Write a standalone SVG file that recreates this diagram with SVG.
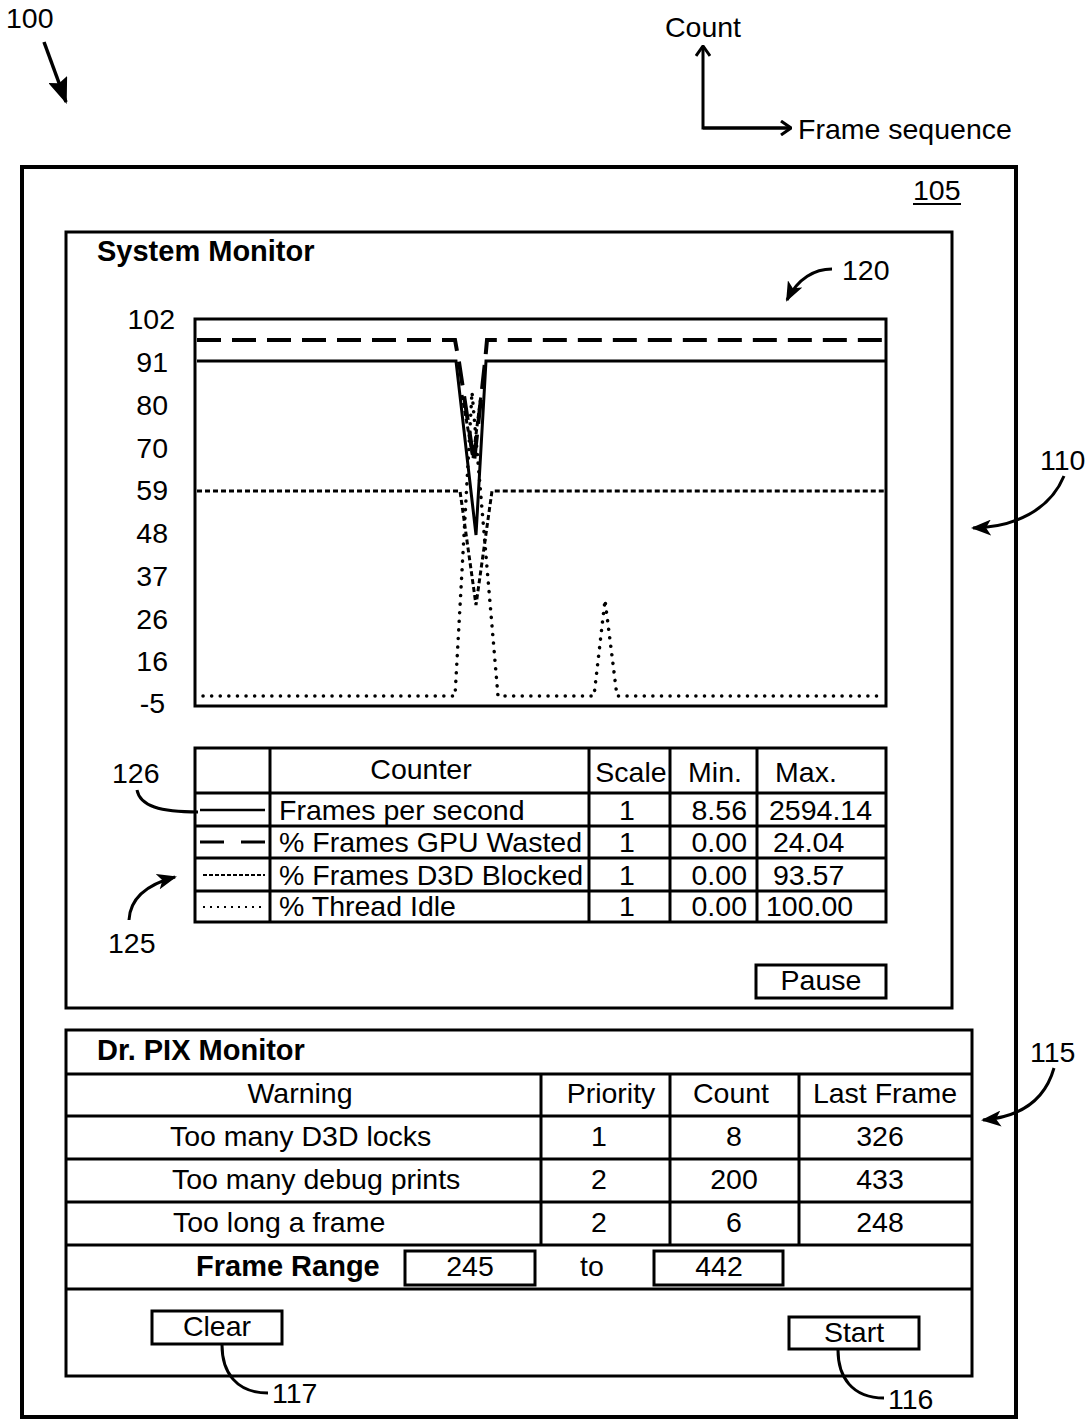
<svg xmlns="http://www.w3.org/2000/svg" width="1091" height="1419" viewBox="0 0 1091 1419">
<style>
text{font-family:"Liberation Sans",Arial,sans-serif;font-size:28.5px;fill:#000}
.b{font-weight:bold;font-size:29px}
.m{text-anchor:middle}
.e{text-anchor:end}
.box{fill:none;stroke:#000;stroke-width:3}
.ln{fill:none;stroke:#000;stroke-width:3}
.solid{fill:none;stroke:#000;stroke-width:3}
.dash{fill:none;stroke:#000;stroke-width:4;stroke-dasharray:24 11}
.dense{fill:none;stroke:#000;stroke-width:3;stroke-dasharray:5 3}
.sparse{fill:none;stroke:#000;stroke-width:3.5;stroke-dasharray:0.1 8.5;stroke-linecap:round}
.lead{fill:none;stroke:#000;stroke-width:3}
</style>
<defs>
<marker id="ah" viewBox="0 0 20 16" refX="18" refY="8" markerWidth="20" markerHeight="16" markerUnits="userSpaceOnUse" orient="auto">
<path d="M0,0 L20,8 L0,16 L5,8 Z" fill="#000"/>
</marker>
<marker id="ahb" viewBox="0 0 26 20" refX="24" refY="10" markerWidth="26" markerHeight="20" markerUnits="userSpaceOnUse" orient="auto">
<path d="M0,0 L26,10 L0,20 L4,10 Z" fill="#000"/>
</marker>
<marker id="chev" viewBox="0 0 12 16" refX="11" refY="8" markerWidth="12" markerHeight="16" markerUnits="userSpaceOnUse" orient="auto">
<path d="M1,1 L11,8 L1,15" fill="none" stroke="#000" stroke-width="3"/>
</marker>
</defs>

<g id="label-100">
<text x="6" y="28">100</text>
</g>

<g id="axes">
<text class="m" x="703" y="37">Count</text>
<text x="798" y="139">Frame sequence</text>
</g>

<g id="frame-105">
<rect x="22" y="167" width="994" height="1250" fill="none" stroke="#000" stroke-width="4"/>
<text x="913" y="200">105</text>
<line x1="913" y1="204" x2="961" y2="204" stroke="#000" stroke-width="2"/>
</g>

<g id="system-monitor-110">
<rect class="box" x="66" y="232" width="886" height="776"/>
<text class="b" x="97" y="261">System Monitor</text>
</g>

<g id="chart-120">
<rect class="box" x="195" y="319" width="691" height="387"/>
<text class="e" x="175" y="329">102</text>
<text class="e" x="168" y="372">91</text>
<text class="e" x="168" y="415">80</text>
<text class="e" x="168" y="458">70</text>
<text class="e" x="168" y="500">59</text>
<text class="e" x="168" y="543">48</text>
<text class="e" x="168" y="586">37</text>
<text class="e" x="168" y="629">26</text>
<text class="e" x="168" y="671">16</text>
<text class="e" x="165" y="713">-5</text>
<polyline class="dash" points="197,340 455,340 459,362 474,462 485,362 487,340 885,340"/>
<polyline class="solid" points="197,361 456,361 476,535 486,361 885,361"/>
<polyline class="dense" points="197,491 460,491 476,605 492,491 885,491"/>
<polyline class="dense" points="462,395 473,458 481,395"/>
<polyline class="sparse" points="203,696 455,696 472,392 498,696 594,696 605,600 617,696 884,696"/>
<text x="842" y="280">120</text>
</g>

<g id="legend-125">
<rect class="box" x="195" y="748" width="691" height="174"/>
<line class="ln" x1="195" y1="793" x2="886" y2="793"/>
<line class="ln" x1="195" y1="826" x2="886" y2="826"/>
<line class="ln" x1="195" y1="858" x2="886" y2="858"/>
<line class="ln" x1="195" y1="891" x2="886" y2="891"/>
<line class="ln" x1="270" y1="748" x2="270" y2="922"/>
<line class="ln" x1="589" y1="748" x2="589" y2="922"/>
<line class="ln" x1="670" y1="748" x2="670" y2="922"/>
<line class="ln" x1="757" y1="748" x2="757" y2="922"/>
<text class="m" x="421" y="779">Counter</text>
<text class="m" x="631" y="782">Scale</text>
<text class="m" x="715" y="782">Min.</text>
<text class="m" x="806" y="782">Max.</text>
<line x1="200" y1="810" x2="265" y2="810" stroke="#000" stroke-width="2.5"/>
<line x1="200" y1="842" x2="265" y2="842" stroke="#000" stroke-width="3" stroke-dasharray="24 17"/>
<line x1="203" y1="875" x2="265" y2="875" stroke="#000" stroke-width="2" stroke-dasharray="4 2"/>
<line x1="203" y1="907" x2="265" y2="907" stroke="#000" stroke-width="2" stroke-dasharray="2 5"/>
<text x="279" y="820">Frames per second</text>
<text x="279" y="852">% Frames GPU Wasted</text>
<text x="279" y="885">% Frames D3D Blocked</text>
<text x="279" y="916">% Thread Idle</text>
<text class="m" x="627" y="820">1</text>
<text class="m" x="627" y="852">1</text>
<text class="m" x="627" y="885">1</text>
<text class="m" x="627" y="916">1</text>
<text class="e" x="747" y="820">8.56</text>
<text class="e" x="747" y="852">0.00</text>
<text class="e" x="747" y="885">0.00</text>
<text class="e" x="747" y="916">0.00</text>
<text x="769" y="820">2594.14</text>
<text x="773" y="852">24.04</text>
<text x="773" y="885">93.57</text>
<text x="766" y="916">100.00</text>
<text x="112" y="783">126</text>
<text x="108" y="953">125</text>
</g>

<g id="pause-button">
<rect class="box" x="756" y="965" width="130" height="33"/>
<text class="m" x="821" y="990">Pause</text>
</g>

<g id="drpix-monitor-115">
<rect class="box" x="66" y="1030" width="906" height="346"/>
<text class="b" x="97" y="1060">Dr. PIX Monitor</text>
<line class="ln" x1="66" y1="1074" x2="972" y2="1074"/>
<line class="ln" x1="66" y1="1116" x2="972" y2="1116"/>
<line class="ln" x1="66" y1="1159" x2="972" y2="1159"/>
<line class="ln" x1="66" y1="1202" x2="972" y2="1202"/>
<line class="ln" x1="66" y1="1245" x2="972" y2="1245"/>
<line class="ln" x1="66" y1="1289" x2="972" y2="1289"/>
<line class="ln" x1="541" y1="1074" x2="541" y2="1245"/>
<line class="ln" x1="670" y1="1074" x2="670" y2="1245"/>
<line class="ln" x1="799" y1="1074" x2="799" y2="1245"/>
<text class="m" x="300" y="1103">Warning</text>
<text class="m" x="611" y="1103">Priority</text>
<text class="m" x="731" y="1103">Count</text>
<text class="m" x="885" y="1103">Last Frame</text>
<text x="170" y="1146">Too many D3D locks</text>
<text x="172" y="1189">Too many debug prints</text>
<text x="173" y="1232">Too long a frame</text>
<text class="m" x="599" y="1146">1</text>
<text class="m" x="599" y="1189">2</text>
<text class="m" x="599" y="1232">2</text>
<text class="m" x="734" y="1146">8</text>
<text class="m" x="734" y="1189">200</text>
<text class="m" x="734" y="1232">6</text>
<text class="m" x="880" y="1146">326</text>
<text class="m" x="880" y="1189">433</text>
<text class="m" x="880" y="1232">248</text>
<text class="b" x="196" y="1276">Frame Range</text>
<rect class="box" x="405" y="1251" width="130" height="34"/>
<text class="m" x="470" y="1276">245</text>
<text class="m" x="592" y="1276">to</text>
<rect class="box" x="654" y="1251" width="129" height="34"/>
<text class="m" x="719" y="1276">442</text>
</g>

<g id="clear-button-117">
<rect class="box" x="152" y="1311" width="130" height="33"/>
<text class="m" x="217" y="1336">Clear</text>
<text x="272" y="1403">117</text>
</g>

<g id="start-button-116">
<rect class="box" x="789" y="1317" width="130" height="32"/>
<text class="m" x="854" y="1342">Start</text>
<text x="888" y="1409">116</text>
</g>

<g id="label-110-115">
<text x="1040" y="470">110</text>
<text x="1030" y="1062">115</text>
</g>

<g id="connectors">
<line x1="44" y1="42" x2="66" y2="102" stroke="#000" stroke-width="3.5" marker-end="url(#ahb)"/>
<polyline points="790,128 703,128 703,46" fill="none" stroke="#000" stroke-width="3" marker-end="url(#chev)"/>
<line x1="703" y1="128" x2="791" y2="128" stroke="#000" stroke-width="3" marker-end="url(#chev)"/>
<path class="lead" d="M832,269 C815,269 798,278 787,300" marker-end="url(#ah)"/>
<path class="lead" d="M1064,476 C1050,510 1015,527 973,528" marker-end="url(#ah)"/>
<path class="lead" d="M1054,1068 C1045,1100 1020,1117 983,1120" marker-end="url(#ah)"/>
<path class="lead" d="M129,920 C130,900 145,885 175,877" marker-end="url(#ah)"/>
<path class="lead" d="M137,790 C140,806 160,812 198,812"/>
<path class="lead" d="M222,1345 C222,1372 236,1393 268,1393"/>
<path class="lead" d="M838,1350 C838,1377 852,1398 884,1398"/>
</g>
</svg>
